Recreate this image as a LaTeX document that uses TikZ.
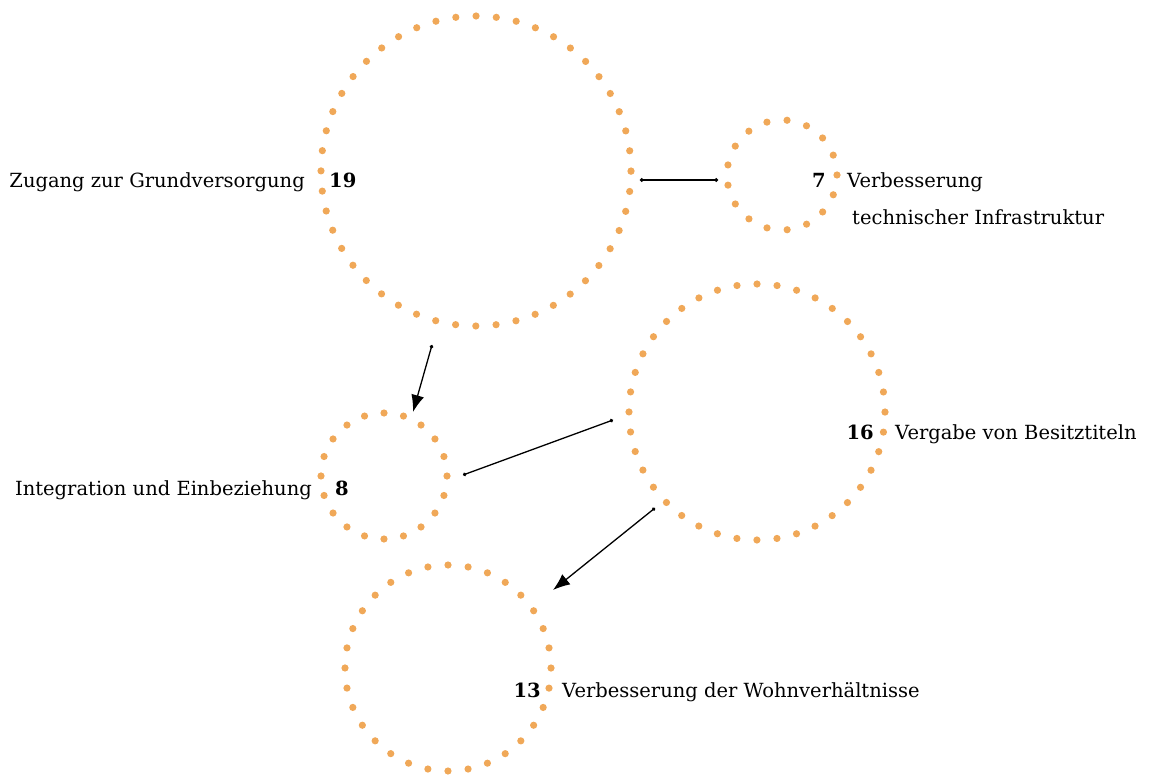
\documentclass[tikz,border=0pt]{standalone}
\usepackage{fontspec}
\setmainfont{DejaVu Serif}
\usetikzlibrary{arrows.meta}
\definecolor{dotc}{RGB}{240,168,88}
\begin{document}
\begin{tikzpicture}[x=1pt,y=-1pt,
  ring/.style={circle, draw=dotc, line width=7.2pt, line cap=round,
    dash pattern=on 0pt off #1, inner sep=0pt, outer sep=0pt},
  num/.style={font=\fontsize{19.5}{24}\selectfont\bfseries, inner sep=0pt},
  lab/.style={font=\fontsize{19.5}{24}\selectfont, inner sep=0pt},
  conn/.style={line width=1.3pt, black, {Circle[length=3.5pt]}-{Circle[length=3.5pt]}},
  tipped/.style={line width=1.3pt, black, {Circle[length=3.5pt]}-{Latex[length=17pt,width=13pt]}}
]
\useasboundingbox (0,0) rectangle (1151,775);

% rings
\node[ring=20.287pt, minimum size=310pt] (c19) at (476,171) {};
\node[ring=20.328pt, minimum size=110pt] (c7)  at (782,175) {};
\node[ring=20.106pt, minimum size=256pt] (c16) at (757,412) {};
\node[ring=19.792pt, minimum size=126pt] (c8)  at (384,476) {};
\node[ring=20.224pt, minimum size=206pt] (c13) at (448,668) {};

% numbers
\node[num, anchor=base west] (n19) at (329,188) {19};
\node[num, anchor=base east] (n7)  at (826,188) {7};
\node[num, anchor=base west] (n8)  at (335,495) {8};
\node[num, anchor=base east] (n16) at (874,439) {16};
\node[num, anchor=base east] (n13) at (541,697) {13};

% labels
\node[lab, anchor=base east] (l19) at (305,188) {Zugang zur Grundversorgung};
\node[lab, anchor=base west] (l7a) at (847,188) {Verbesserung};
\node[lab, anchor=base west] (l7b) at (852,225) {technischer Infrastruktur};
\node[lab, anchor=base east] (l8)  at (312,495) {Integration und Einbeziehung};
\node[lab, anchor=base west] (l16) at (895,439) {Vergabe von Besitztiteln};
\node[lab, anchor=base west] (l13) at (562,697) {Verbesserung der Wohnverhältnisse};

% connector end points
\coordinate (a1) at (640,180);
\coordinate (b1) at (718,180);
\coordinate (a2) at (432,345);
\coordinate (b2) at (413,412);
\coordinate (a3) at (613,420);
\coordinate (b3) at (463,475);
\coordinate (a4) at (655,508);
\coordinate (b4) at (553,590);

\draw[conn] (a1) -- (b1);
\draw[tipped] (a2) -- (b2);
\draw[conn] (a3) -- (b3);
\draw[tipped] (a4) -- (b4);
\end{tikzpicture}
\end{document}
